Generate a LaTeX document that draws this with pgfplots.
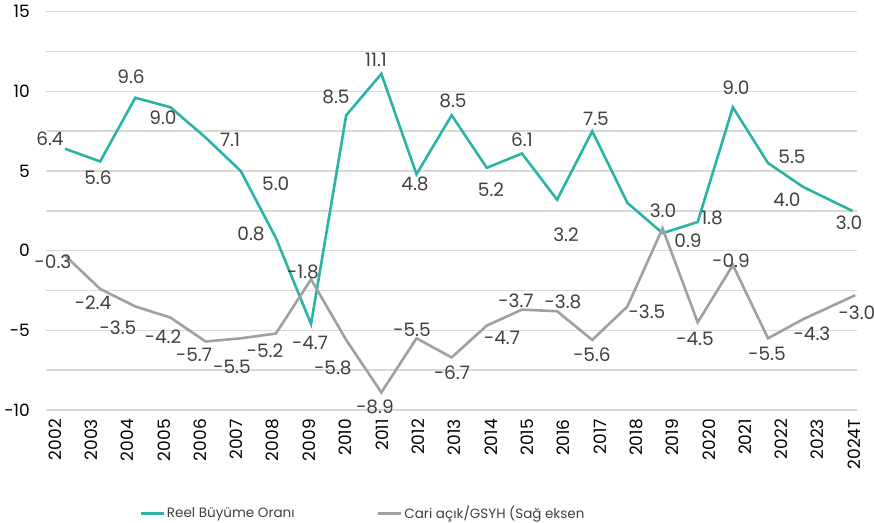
\documentclass[border=0pt]{standalone}
\usepackage{pgfplots}
\pgfplotsset{compat=1.18}
\usepackage{pgfplotstable}
\usepackage{fontspec}
\setmainfont{Poppins}
\definecolor{tealc}{RGB}{42,180,165}
\definecolor{grayc}{RGB}{160,160,160}
\definecolor{gridc}{RGB}{217,217,217}
\definecolor{labc}{RGB}{64,64,64}

% Reel Buyume Orani (year index, value)
\pgfplotstableread{
x y
0 6.4
1 5.6
2 9.6
3 9.0
4 7.1
5 5.0
6 0.8
7 -4.6
8 8.5
9 11.1
10 4.8
11 8.5
12 5.2
13 6.1
14 3.2
15 7.5
16 3.0
17 1.1
18 1.8
19 9.0
20 5.5
21 4.0
22.4 2.5
}\tealdata

% Cari acik/GSYH
\pgfplotstableread{
x y
0 -0.3
1 -2.4
2 -3.5
3 -4.2
4 -5.7
5 -5.5
6 -5.2
7 -1.8
8 -5.6
9 -8.9
10 -5.5
11 -6.7
12 -4.7
13 -3.7
14 -3.8
15 -5.6
16 -3.5
17 1.4
18 -4.5
19 -0.9
20 -5.5
21 -4.3
22.48 -2.8
}\graydata

% data label positions
\pgfplotstableread{
x y lab
-0.427 7.00 6.4
0.939 4.56 5.6
1.878 10.90 9.6
2.788 8.32 9.0
4.694 6.94 7.1
5.997 4.18 5.0
5.292 1.04 0.8
6.970 -5.80 -4.7
7.710 9.64 8.5
8.848 11.97 11.1
9.957 4.18 4.8
11.038 9.39 8.5
12.119 3.80 5.2
13.001 6.94 6.1
14.253 0.98 3.2
15.107 8.26 7.5
17.013 2.49 3.0
17.724 0.60 0.9
18.407 2.05 1.8
19.090 10.21 9.0
20.683 5.88 5.5
20.541 3.18 4.0
22.305 1.73 3.0
-0.341 -0.72 -0.3
0.797 -3.29 -2.4
1.508 -4.86 -3.5
2.788 -5.42 -4.2
3.670 -6.56 -5.7
4.751 -7.31 -5.5
5.690 -6.30 -5.2
6.771 -1.34 -1.8
7.624 -7.37 -5.8
8.819 -9.82 -8.9
9.872 -4.98 -5.5
11.010 -7.68 -6.7
12.432 -5.49 -4.7
12.831 -3.17 -3.7
14.168 -3.23 -3.8
14.993 -6.56 -5.6
16.558 -3.85 -3.5
17.923 -5.55 -4.5
18.947 -0.65 -0.9
19.972 -6.49 -5.5
21.252 -5.19 -4.3
22.532 -3.92 -3.0
}\labdata

\begin{document}
\begin{tikzpicture}
\path[use as bounding box] (0,0) rectangle (874bp,-523bp);
\begin{axis}[
  at={(46bp,-11.7bp)}, anchor=north west,
  scale only axis, width=811bp, height=398.3bp,
  xmin=-0.5405, xmax=22.532, ymin=-10, ymax=15,
  axis line style={draw=none},
  clip=false,
  ytick={-10,-5,0,5,10,15},
  yticklabels={-10,-5,0,5,10,15},
  minor y tick num=1,
  ymajorgrids, yminorgrids,
  major grid style={gridc, line width=1.4bp},
  minor grid style={gridc, line width=1.4bp},
  major tick length=0pt, minor tick length=0pt,
  tick style={draw=none},
  yticklabel style={font=\fontsize{17bp}{19bp}\selectfont, text=black, anchor=east, inner sep=0pt},
  yticklabel shift=16bp,
  xtick={-0.285,0.749,1.782,2.815,3.849,4.882,5.915,6.949,7.982,9.015,10.049,11.082,12.115,13.149,14.182,15.215,16.249,17.282,18.315,19.349,20.382,21.415,22.449},
  xticklabels={2002,2003,2004,2005,2006,2007,2008,2009,2010,2011,2012,2013,2014,2015,2016,2017,2018,2019,2020,2021,2022,2023,2024T},
  xticklabel style={font=\fontsize{17bp}{19bp}\selectfont, text=black, rotate=90, anchor=east, inner sep=0pt},
  xticklabel shift=9bp,
  legend columns=2,
  legend style={at={(0.111,-0.259)}, anchor=west, draw=none, fill=none,
    font=\fontsize{13.5bp}{15bp}\selectfont, text=labc,
    /tikz/every even column/.append style={column sep=80bp}},
  legend image code/.code={\draw[#1, line width=2.8bp] (0bp,0bp) -- (23bp,0bp);},
]
\addplot[color=tealc, line width=2.6bp, mark=none] table[x=x, y=y] {\tealdata};
\addlegendentry{Reel Büyüme Oranı}
\addplot[color=grayc, line width=2.6bp, mark=none] table[x=x, y=y] {\graydata};
\addlegendentry{Cari açık/GSYH (Sağ eksen}
\addplot[only marks, mark=none, forget plot, nodes near coords,
  point meta=explicit symbolic,
  every node near coord/.style={anchor=center, text=labc, inner sep=0pt,
    font=\fontsize{18.5bp}{20bp}\selectfont}]
  table[x=x, y=y, meta=lab] {\labdata};
\end{axis}
\end{tikzpicture}
\end{document}
